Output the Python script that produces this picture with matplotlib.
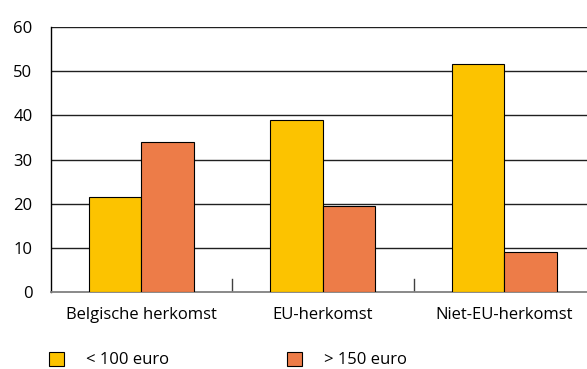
import matplotlib

matplotlib.use("Agg")
import matplotlib.pyplot as plt
import numpy as np
from matplotlib.patches import Patch

categories = ["Belgische herkomst", "EU-herkomst", "Niet-EU-herkomst"]
series_names = ["< 100 euro", "> 150 euro"]
under_100 = [21.4, 38.9, 51.6]
over_150 = [34.0, 19.4, 9.1]
y_ticks = [0, 10, 20, 30, 40, 50, 60]

yellow = "#FCC300"
orange = "#ED7C48"

plt.rcParams["font.family"] = ["Open Sans", "DejaVu Sans"]

fig = plt.figure(figsize=(5.87, 3.69), dpi=100)
# axes runs a bit past the right edge of the figure, like the original
ax = fig.add_axes([50.5 / 587, 77 / 369, 544.5 / 587, 265 / 369])

x = np.arange(len(categories))
w = 0.289
ax.bar(x - w / 2, under_100, w, color=yellow, edgecolor="black", linewidth=0.8, zorder=3)
ax.bar(x + w / 2, over_150, w, color=orange, edgecolor="black", linewidth=0.8, zorder=3)

ax.set_xlim(-0.5, len(categories) - 0.5)
ax.set_ylim(0, 60)
ax.set_yticks(y_ticks)
ax.set_yticklabels([str(v) for v in y_ticks], fontsize=12)
for v in y_ticks[1:]:
    ax.axhline(v, color="#202020", linewidth=1.0, zorder=1)

# category labels centred, separator ticks between categories
ax.set_xticks(x)
ax.set_xticklabels(categories, fontsize=12)
ax.tick_params(axis="x", length=0, pad=11)
ax.tick_params(axis="y", length=0, pad=13)
for sep in x[:-1] + 0.5:
    ax.plot([sep, sep], [0, 3.0], color="#404040", linewidth=1.0, zorder=2)

for side in ["top", "right"]:
    ax.spines[side].set_visible(False)
ax.spines["left"].set_color("black")
ax.spines["left"].set_linewidth(1.0)
ax.spines["bottom"].set_color("#808080")
ax.spines["bottom"].set_linewidth(1.3)

handles = [
    Patch(facecolor=yellow, edgecolor="black", linewidth=0.8),
    Patch(facecolor=orange, edgecolor="black", linewidth=0.8),
]
fig.legend(
    handles, series_names,
    loc="center left", bbox_to_anchor=(34 / 587, 1 - 360 / 369),
    ncol=2, frameon=False, fontsize=12,
    handlelength=0.9, handleheight=0.9, handletextpad=1.3, columnspacing=7.1,
)

fig.savefig("out.png", dpi=100)
plt.close(fig)
